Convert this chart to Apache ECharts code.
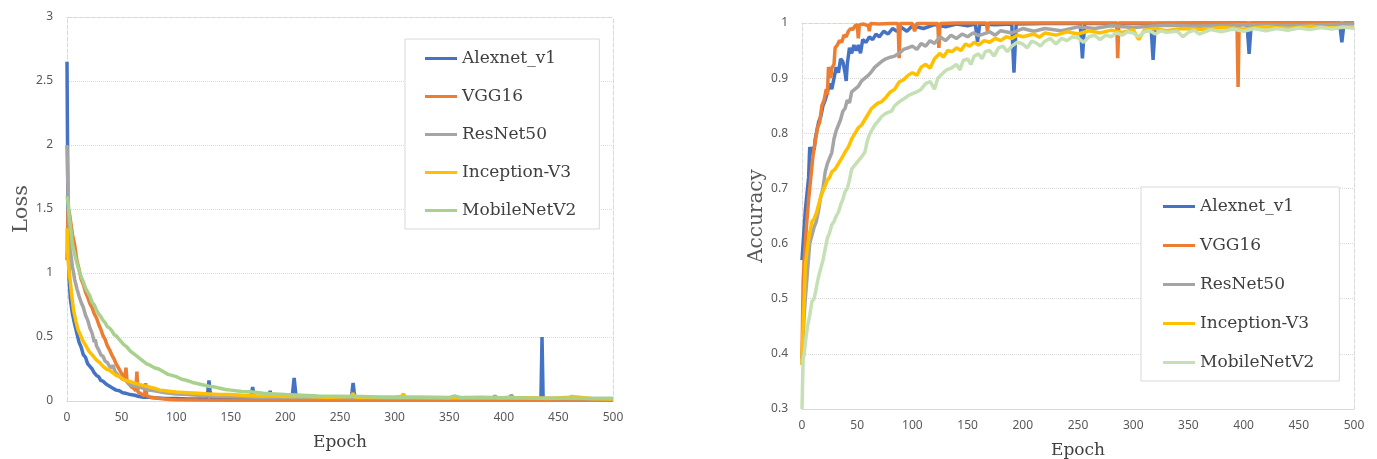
<!DOCTYPE html>
<html>
<head>
<meta charset="utf-8">
<script src="https://cdn.jsdelivr.net/npm/echarts@6/dist/echarts.min.js"></script>
<style>
  html, body { margin: 0; padding: 0; background: #fff; }
  #chart { width: 1377px; height: 459px; }
</style>
</head>
<body>
<div id="chart"></div>
<script>
var seriesNames = ['Alexnet_v1', 'VGG16', 'ResNet50', 'Inception-V3', 'MobileNetV2'];
var lossColors = ['#4472C4', '#ED7D31', '#A5A5A5', '#FFC000', '#A9D18E'];
var accColors = ['#4472C4', '#ED7D31', '#A5A5A5', '#FFC000', '#C5E0B4'];

var epochTicks = [0, 50, 100, 150, 200, 250, 300, 350, 400, 450, 500];
var lossTicks = [0, 0.5, 1, 1.5, 2, 2.5, 3];
var accTicks = [0.3, 0.4, 0.5, 0.6, 0.7, 0.8, 0.9, 1];

// loss curves, [epoch, loss]
var alexLoss = [[0,2.65],[1,1.3],[2,0.95],[3,0.8],[5,0.68],[7,0.6],[9,0.53],[11,0.46],[13,0.42],[15,0.36],[17,0.34],[19,0.29],[21,0.27],[23,0.25],[25,0.22],[27,0.2],[29,0.19],[31,0.16],[33,0.155],[36,0.13],[39,0.115],[42,0.1],[45,0.085],[48,0.08],[51,0.065],[54,0.06],[58,0.05],[62,0.045],[66,0.035],[70,0.03],[75,0.03],[80,0.025],[90,0.02],[100,0.02],[110,0.015],[120,0.015],[128,0.015],[129,0.08],[130,0.16],[131,0.08],[132,0.015],[150,0.012],[168,0.012],[169,0.06],[170,0.11],[171,0.06],[172,0.012],[185,0.012],[186,0.08],[187,0.012],[206,0.012],[207,0.1],[208,0.18],[209,0.1],[210,0.012],[260,0.01],[261,0.07],[262,0.14],[263,0.07],[264,0.01],[300,0.01],[350,0.01],[400,0.01],[434,0.02],[435,0.5],[436,0.02],[470,0.01],[500,0.01]];
var vggLoss = [[0,1.1],[1,1.5],[2,1.48],[3,1.42],[5,1.3],[7,1.22],[9,1.1],[11,1.03],[13,0.95],[15,0.91],[17,0.85],[19,0.81],[21,0.76],[23,0.73],[25,0.68],[27,0.65],[29,0.6],[31,0.56],[33,0.51],[35,0.48],[37,0.43],[39,0.4],[41,0.36],[43,0.33],[45,0.29],[47,0.26],[49,0.23],[51,0.2],[53,0.17],[54,0.26],[55,0.15],[57,0.13],[59,0.11],[61,0.1],[63,0.08],[64,0.23],[65,0.07],[67,0.06],[69,0.05],[71,0.04],[72,0.14],[73,0.04],[76,0.03],[80,0.025],[85,0.02],[90,0.015],[95,0.012],[100,0.01],[120,0.008],[150,0.006],[200,0.005],[250,0.005],[300,0.005],[400,0.005],[500,0.005]];
var resLoss = [[0,2.0],[1,1.6],[2,1.3],[3,1.18],[5,1.05],[7,0.95],[9,0.88],[11,0.82],[13,0.77],[15,0.73],[17,0.67],[19,0.63],[21,0.57],[23,0.53],[25,0.46],[26,0.48],[27,0.43],[29,0.4],[31,0.36],[33,0.35],[35,0.31],[37,0.3],[39,0.27],[41,0.26],[42,0.28],[44,0.23],[46,0.21],[48,0.19],[51,0.17],[54,0.16],[57,0.13],[60,0.12],[65,0.11],[70,0.1],[75,0.085],[80,0.08],[90,0.065],[100,0.055],[110,0.05],[120,0.045],[130,0.04],[150,0.035],[175,0.03],[200,0.028],[250,0.025],[300,0.022],[350,0.022],[390,0.025],[392,0.04],[394,0.022],[405,0.03],[407,0.045],[409,0.025],[450,0.02],[500,0.02]];
var incLoss = [[0,1.35],[1,1.1],[2,1.0],[3,0.94],[4,0.85],[6,0.71],[8,0.63],[10,0.56],[12,0.52],[14,0.48],[16,0.45],[18,0.42],[20,0.39],[22,0.37],[24,0.35],[27,0.32],[30,0.3],[33,0.27],[36,0.25],[39,0.24],[42,0.22],[45,0.2],[48,0.19],[51,0.17],[54,0.16],[58,0.15],[62,0.14],[66,0.13],[70,0.12],[75,0.11],[80,0.1],[85,0.085],[90,0.08],[95,0.075],[100,0.07],[110,0.065],[120,0.06],[130,0.055],[140,0.05],[150,0.05],[160,0.045],[175,0.04],[190,0.04],[200,0.035],[220,0.035],[240,0.03],[260,0.035],[262,0.06],[264,0.03],[280,0.03],[300,0.03],[306,0.035],[308,0.055],[310,0.03],[330,0.03],[350,0.025],[380,0.03],[400,0.025],[420,0.025],[440,0.02],[460,0.03],[462,0.035],[480,0.02],[500,0.015]];
var mobLoss = [[0,1.6],[1,1.55],[2,1.45],[3,1.38],[5,1.22],[7,1.15],[9,1.08],[11,1.02],[13,0.97],[15,0.93],[17,0.88],[19,0.85],[21,0.82],[23,0.77],[25,0.75],[27,0.71],[29,0.68],[31,0.66],[33,0.63],[35,0.61],[37,0.58],[39,0.57],[41,0.55],[43,0.52],[45,0.51],[47,0.49],[49,0.47],[52,0.44],[55,0.42],[58,0.39],[61,0.37],[64,0.35],[67,0.33],[70,0.31],[73,0.29],[76,0.28],[80,0.26],[84,0.25],[88,0.23],[92,0.21],[96,0.2],[100,0.19],[105,0.17],[110,0.16],[115,0.145],[120,0.135],[125,0.125],[130,0.115],[135,0.11],[140,0.1],[145,0.09],[150,0.085],[160,0.075],[170,0.07],[180,0.06],[190,0.055],[200,0.05],[215,0.045],[230,0.04],[250,0.038],[270,0.035],[290,0.03],[310,0.03],[330,0.028],[350,0.028],[355,0.04],[360,0.027],[380,0.025],[400,0.025],[420,0.023],[440,0.022],[460,0.022],[480,0.02],[500,0.02]];

// accuracy curves, [epoch, accuracy]
var alexAcc = [[0,0.57],[1,0.6],[2,0.63],[3,0.66],[4,0.68],[5,0.7],[6,0.72],[7,0.775],[8,0.77],[9,0.76],[10,0.775],[11,0.77],[12,0.79],[13,0.8],[15,0.82],[17,0.83],[19,0.85],[21,0.86],[23,0.875],[25,0.89],[27,0.88],[29,0.9],[31,0.92],[33,0.91],[35,0.935],[37,0.93],[39,0.91],[40,0.895],[41,0.925],[43,0.955],[45,0.945],[47,0.96],[49,0.95],[51,0.96],[53,0.945],[55,0.97],[58,0.965],[61,0.975],[64,0.97],[67,0.98],[70,0.975],[74,0.985],[78,0.98],[82,0.99],[86,0.985],[90,0.992],[95,0.985],[100,0.995],[110,0.99],[120,0.997],[130,0.993],[140,0.998],[150,0.995],[157,0.998],[159,0.966],[161,0.998],[175,0.997],[190,0.998],[192,0.91],[194,0.998],[220,0.999],[252,0.999],[254,0.936],[256,0.999],[300,0.999],[316,0.999],[318,0.933],[320,0.999],[360,1],[403,1],[405,0.944],[407,1],[450,1],[487,1],[489,0.965],[491,1],[500,1]];
var vggAcc = [[0,0.39],[1,0.53],[2,0.57],[3,0.6],[4,0.63],[6,0.68],[8,0.72],[10,0.76],[12,0.785],[14,0.81],[16,0.82],[18,0.85],[20,0.86],[22,0.88],[23,0.87],[24,0.92],[25,0.915],[26,0.9],[27,0.918],[29,0.925],[30,0.955],[32,0.96],[34,0.968],[36,0.965],[38,0.978],[40,0.975],[42,0.985],[44,0.99],[46,0.988],[48,0.995],[50,0.997],[51,0.972],[52,0.997],[56,0.998],[60,0.995],[61,0.985],[62,0.999],[70,0.998],[80,0.999],[87,0.999],[88,0.936],[89,0.999],[100,0.999],[102,0.985],[104,0.999],[123,0.999],[124,0.955],[125,0.999],[140,1],[167,1],[168,0.985],[169,1],[200,1],[285,1],[286,0.936],[287,1],[300,1],[394,1],[395,0.884],[396,1],[450,1],[500,1]];
var resAcc = [[0,0.38],[1,0.43],[2,0.47],[3,0.5],[5,0.55],[7,0.6],[9,0.615],[11,0.63],[13,0.64],[15,0.66],[17,0.685],[19,0.7],[21,0.73],[23,0.745],[25,0.755],[27,0.765],[29,0.79],[31,0.805],[33,0.815],[35,0.825],[37,0.84],[39,0.845],[41,0.86],[43,0.855],[45,0.875],[48,0.88],[51,0.885],[54,0.895],[57,0.9],[60,0.905],[63,0.912],[66,0.92],[69,0.925],[72,0.93],[76,0.935],[80,0.938],[84,0.94],[88,0.945],[92,0.952],[96,0.955],[100,0.958],[104,0.952],[108,0.963],[112,0.958],[116,0.968],[120,0.963],[125,0.975],[130,0.968],[135,0.978],[140,0.972],[145,0.98],[150,0.975],[155,0.982],[160,0.977],[170,0.984],[175,0.978],[180,0.986],[190,0.982],[200,0.99],[210,0.985],[220,0.99],[235,0.986],[250,0.993],[265,0.99],[280,0.995],[300,0.992],[330,0.996],[360,0.994],[400,0.997],[450,0.996],[500,0.998]];
var incAcc = [[0,0.38],[1,0.45],[2,0.5],[3,0.56],[5,0.595],[7,0.62],[9,0.64],[11,0.645],[13,0.655],[15,0.67],[17,0.685],[19,0.695],[21,0.705],[23,0.715],[25,0.72],[27,0.73],[30,0.735],[33,0.745],[36,0.755],[39,0.766],[42,0.775],[45,0.79],[48,0.8],[51,0.81],[54,0.815],[57,0.825],[60,0.835],[63,0.845],[66,0.85],[69,0.855],[72,0.857],[76,0.865],[80,0.875],[84,0.88],[88,0.893],[92,0.897],[96,0.905],[100,0.91],[104,0.905],[108,0.92],[112,0.925],[116,0.918],[120,0.935],[125,0.945],[128,0.938],[132,0.95],[136,0.948],[140,0.955],[144,0.95],[148,0.962],[152,0.958],[156,0.965],[160,0.96],[165,0.968],[170,0.965],[175,0.972],[180,0.968],[185,0.975],[190,0.972],[195,0.978],[200,0.975],[210,0.98],[215,0.974],[220,0.982],[230,0.978],[240,0.984],[250,0.98],[260,0.986],[270,0.982],[280,0.987],[290,0.983],[300,0.988],[305,0.97],[310,0.987],[320,0.99],[330,0.986],[345,0.99],[360,0.988],[380,0.992],[400,0.989],[420,0.993],[440,0.99],[460,0.994],[480,0.991],[500,0.993]];
var mobAcc = [[0,0.3],[1,0.39],[2,0.4],[3,0.42],[5,0.45],[7,0.47],[9,0.495],[11,0.5],[13,0.52],[15,0.54],[17,0.555],[19,0.57],[21,0.59],[23,0.61],[25,0.62],[27,0.634],[29,0.64],[31,0.65],[33,0.657],[35,0.67],[37,0.68],[39,0.694],[41,0.7],[43,0.715],[45,0.735],[47,0.74],[49,0.745],[51,0.75],[53,0.755],[55,0.76],[57,0.766],[59,0.785],[61,0.797],[63,0.805],[66,0.815],[69,0.822],[72,0.83],[75,0.835],[78,0.838],[81,0.84],[84,0.85],[88,0.857],[92,0.862],[96,0.868],[100,0.872],[104,0.875],[108,0.88],[112,0.89],[116,0.894],[120,0.88],[123,0.9],[127,0.908],[131,0.915],[135,0.918],[140,0.925],[143,0.915],[146,0.932],[150,0.935],[153,0.925],[156,0.94],[160,0.944],[163,0.935],[166,0.948],[170,0.95],[174,0.94],[178,0.955],[182,0.958],[186,0.948],[190,0.958],[195,0.965],[200,0.962],[204,0.955],[208,0.967],[212,0.964],[216,0.958],[220,0.967],[225,0.972],[230,0.962],[235,0.972],[240,0.968],[245,0.975],[250,0.973],[255,0.965],[260,0.975],[265,0.978],[270,0.97],[275,0.978],[280,0.975],[285,0.982],[290,0.978],[295,0.984],[300,0.982],[305,0.975],[310,0.984],[315,0.986],[320,0.98],[325,0.986],[330,0.983],[340,0.985],[345,0.975],[350,0.983],[355,0.987],[360,0.98],[370,0.988],[380,0.984],[390,0.989],[400,0.985],[410,0.99],[420,0.986],[430,0.99],[440,0.987],[450,0.991],[460,0.988],[470,0.992],[480,0.989],[490,0.993],[500,0.99]];

var lossData = [alexLoss, vggLoss, resLoss, incLoss, mobLoss];
var accData = [alexAcc, vggAcc, resAcc, incAcc, mobAcc];

var labelFont = 'Noto Sans';
var nameFont = 'DejaVu Serif';
var gridColor = '#d9d9d9';

function step(ticks) { return ticks[1] - ticks[0]; }
function tidy(v) { return String(+v.toFixed(2)); }

function bottomAxis(grid, gap) {
	return {
		gridIndex: grid, type: 'value',
		min: epochTicks[0], max: epochTicks[epochTicks.length - 1], interval: step(epochTicks),
		axisLine: {onZero: false, lineStyle: {color: gridColor, width: 1}},
		axisTick: {show: false},
		axisLabel: {color: '#595959', fontSize: 12, fontFamily: labelFont, margin: 11},
		splitLine: {show: false},
		name: 'Epoch', nameLocation: 'middle', nameGap: gap,
		nameTextStyle: {fontFamily: nameFont, fontSize: 17, color: '#404040'}
	};
}
function topAxis(grid) {
	return {
		gridIndex: grid, type: 'value', position: 'top',
		min: epochTicks[0], max: epochTicks[epochTicks.length - 1],
		axisLine: {onZero: false, lineStyle: {color: gridColor, type: 'dashed'}},
		axisTick: {show: false}, axisLabel: {show: false}, splitLine: {show: false}
	};
}
function leftAxis(grid, ticks, name, gap, size) {
	return {
		gridIndex: grid, type: 'value',
		min: ticks[0], max: ticks[ticks.length - 1], interval: +step(ticks).toFixed(2),
		axisLine: {show: true, onZero: false, lineStyle: {color: gridColor, type: 'dashed'}},
		axisTick: {show: false},
		axisLabel: {color: '#595959', fontSize: 12, fontFamily: labelFont, margin: 14, formatter: tidy},
		splitLine: {show: true, lineStyle: {color: gridColor, type: 'dotted'}},
		name: name, nameLocation: 'middle', nameGap: gap,
		nameTextStyle: {fontFamily: nameFont, fontSize: size, color: '#595959'}
	};
}
function rightAxis(grid, ticks) {
	return {
		gridIndex: grid, type: 'value', position: 'right',
		min: ticks[0], max: ticks[ticks.length - 1],
		axisLine: {show: true, onZero: false, lineStyle: {color: gridColor, type: 'dashed'}},
		axisTick: {show: false}, axisLabel: {show: false}, splitLine: {show: false}
	};
}
function makeLegend(colors, left, top, pad, gap) {
	return {
		orient: 'vertical', left: left, top: top, padding: pad, itemGap: gap,
		icon: 'rect', itemWidth: 32, itemHeight: 3,
		borderColor: '#d9d9d9', borderWidth: 1, backgroundColor: '#fff',
		selectedMode: false,
		textStyle: {fontFamily: nameFont, fontSize: 17, color: '#404040'},
		data: seriesNames.map(function (n, i) {
			return {name: n, itemStyle: {color: colors[i]}};
		})
	};
}

var series = [];
seriesNames.forEach(function (n, i) {
	series.push({
		name: n, type: 'line', xAxisIndex: 0, yAxisIndex: 0,
		data: lossData[i], showSymbol: false, clip: false,
		lineStyle: {width: 3.5, color: lossColors[i]}, itemStyle: {color: lossColors[i]}
	});
});
seriesNames.forEach(function (n, i) {
	series.push({
		name: n, type: 'line', xAxisIndex: 2, yAxisIndex: 2,
		data: accData[i], showSymbol: false, clip: false,
		lineStyle: {width: 3.5, color: accColors[i]}, itemStyle: {color: accColors[i]}
	});
});

var option = {
	animation: false,
	backgroundColor: '#fff',
	grid: [
		{left: 67, top: 17, width: 546, height: 384, outerBoundsMode: 'none'},
		{left: 802, top: 23, width: 552, height: 386, outerBoundsMode: 'none'}
	],
	xAxis: [bottomAxis(0, 33), topAxis(0), bottomAxis(1, 33), topAxis(1)],
	yAxis: [
		leftAxis(0, lossTicks, 'Loss', 35, 21), rightAxis(0, lossTicks),
		leftAxis(1, accTicks, 'Accuracy', 35, 20), rightAxis(1, accTicks)
	],
	legend: [
		makeLegend(lossColors, 405, 39, [11, 23, 10, 20], 21),
		makeLegend(accColors, 1141, 187, [11, 25, 10, 22], 22)
	],
	series: series
};

var chart = echarts.init(document.getElementById('chart'));
chart.setOption(option);
</script>
</body>
</html>
